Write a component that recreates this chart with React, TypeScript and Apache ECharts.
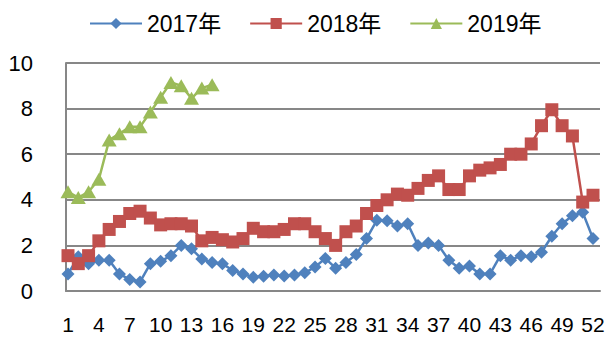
import React, { useEffect, useRef } from "react";
import * as echarts from "echarts";

const weeks = [
  1, 2, 3, 4, 5, 6, 7, 8, 9, 10, 11, 12, 13, 14, 15, 16, 17, 18, 19, 20, 21, 22, 23, 24, 25, 26,
  27, 28, 29, 30, 31, 32, 33, 34, 35, 36, 37, 38, 39, 40, 41, 42, 43, 44, 45, 46, 47, 48, 49, 50, 51, 52,
];
const tickWeeks = [1, 4, 7, 10, 13, 16, 19, 22, 25, 28, 31, 34, 37, 40, 43, 46, 49, 52];
const yTicks = [0, 2, 4, 6, 8, 10];

const values2017 = [
  0.75, 1.5, 1.2, 1.35, 1.35, 0.75, 0.5, 0.4, 1.2, 1.3,
  1.55, 2.0, 1.85, 1.4, 1.25, 1.2, 0.9, 0.75, 0.6, 0.65,
  0.7, 0.66, 0.7, 0.8, 1.05, 1.43, 1.0, 1.25, 1.6, 2.3,
  3.1, 3.08, 2.85, 2.95, 2.0, 2.1, 2.0, 1.35, 1.0, 1.1,
  0.75, 0.75, 1.55, 1.35, 1.55, 1.5, 1.7, 2.4, 2.95, 3.3,
  3.45, 2.3,
];
const values2018 = [
  1.55, 1.2, 1.55, 2.2, 2.7, 3.05, 3.4, 3.5, 3.2, 2.9,
  2.95, 2.95, 2.85, 2.2, 2.35, 2.25, 2.15, 2.3, 2.75, 2.6,
  2.6, 2.7, 2.95, 2.95, 2.6, 2.3, 2.0, 2.6, 2.85, 3.4,
  3.75, 4.0, 4.25, 4.2, 4.5, 4.85, 5.05, 4.45, 4.45, 5.05,
  5.3, 5.4, 5.55, 6.0, 6.0, 6.45, 7.25, 7.95, 7.25, 6.8,
  3.9, 4.2,
];
const values2019 = [
  4.35, 4.1, 4.35, 4.9, 6.62, 6.9, 7.2, 7.2, 7.85, 8.5,
  9.15, 9.0, 8.45, 8.9, 9.05,
];

const seriesNames = ["2017年", "2018年", "2019年"];
const colors = ["#4F81BD", "#C0504D", "#9BBB59"];

const pairs = (vals: number[]) => vals.map((v, i) => [weeks[i], v]);

export default function App() {
  const ref = useRef<HTMLDivElement>(null);

  useEffect(() => {
    if (!ref.current) return;
    const chart = echarts.init(ref.current, null, { renderer: "svg" });
    const gridColor = "#878787";
    const font = "'Liberation Sans', 'Noto Sans CJK SC', sans-serif";

    const makeSeries = (idx: number, vals: number[], symbol: string, size: number | number[]) => ({
      name: seriesNames[idx],
      type: "line",
      data: pairs(vals),
      symbol,
      symbolSize: size,
      showAllSymbol: true,
      lineStyle: { color: colors[idx], width: 2.5 },
      itemStyle: { color: colors[idx] },
      z: 2 + idx,
    });

    chart.setOption({
      animation: false,
      color: colors,
      legend: {
        top: 7,
        left: 84,
        itemWidth: 52,
        itemHeight: 14,
        itemGap: 28,
        textStyle: { fontFamily: font, fontSize: 23, color: "#000" },
        data: seriesNames,
      },
      grid: { left: 66, right: 11, top: 63, bottom: 48, containLabel: false },
      xAxis: {
        type: "value",
        min: 0.806,
        max: 52.68,
        axisLine: { show: true, onZero: false, lineStyle: { color: gridColor, width: 2 } },
        axisTick: { show: false },
        splitLine: { show: false },
        axisLabel: {
          customValues: tickWeeks,
          margin: 23,
          fontFamily: "'Liberation Sans Narrow', 'Liberation Sans', sans-serif",
          fontSize: 21,
          color: "#000",
        },
      },
      yAxis: {
        type: "value",
        min: 0,
        max: 10,
        interval: 2,
        axisLine: { show: true, lineStyle: { color: gridColor, width: 2 } },
        axisTick: { show: false },
        splitLine: { show: true, lineStyle: { color: gridColor, width: 2 } },
        axisLabel: {
          customValues: yTicks,
          margin: 33,
          fontFamily: font,
          fontSize: 22,
          color: "#000",
        },
      },
      series: [
        makeSeries(0, values2017, "diamond", [13, 13]),
        makeSeries(1, values2018, "rect", 13),
        makeSeries(2, values2019, "triangle", [15, 13]),
      ],
    });

    return () => chart.dispose();
  }, []);

  return <div ref={ref} style={{ width: 611, height: 339, position: "absolute", left: 0, top: 0 }} />;
}
